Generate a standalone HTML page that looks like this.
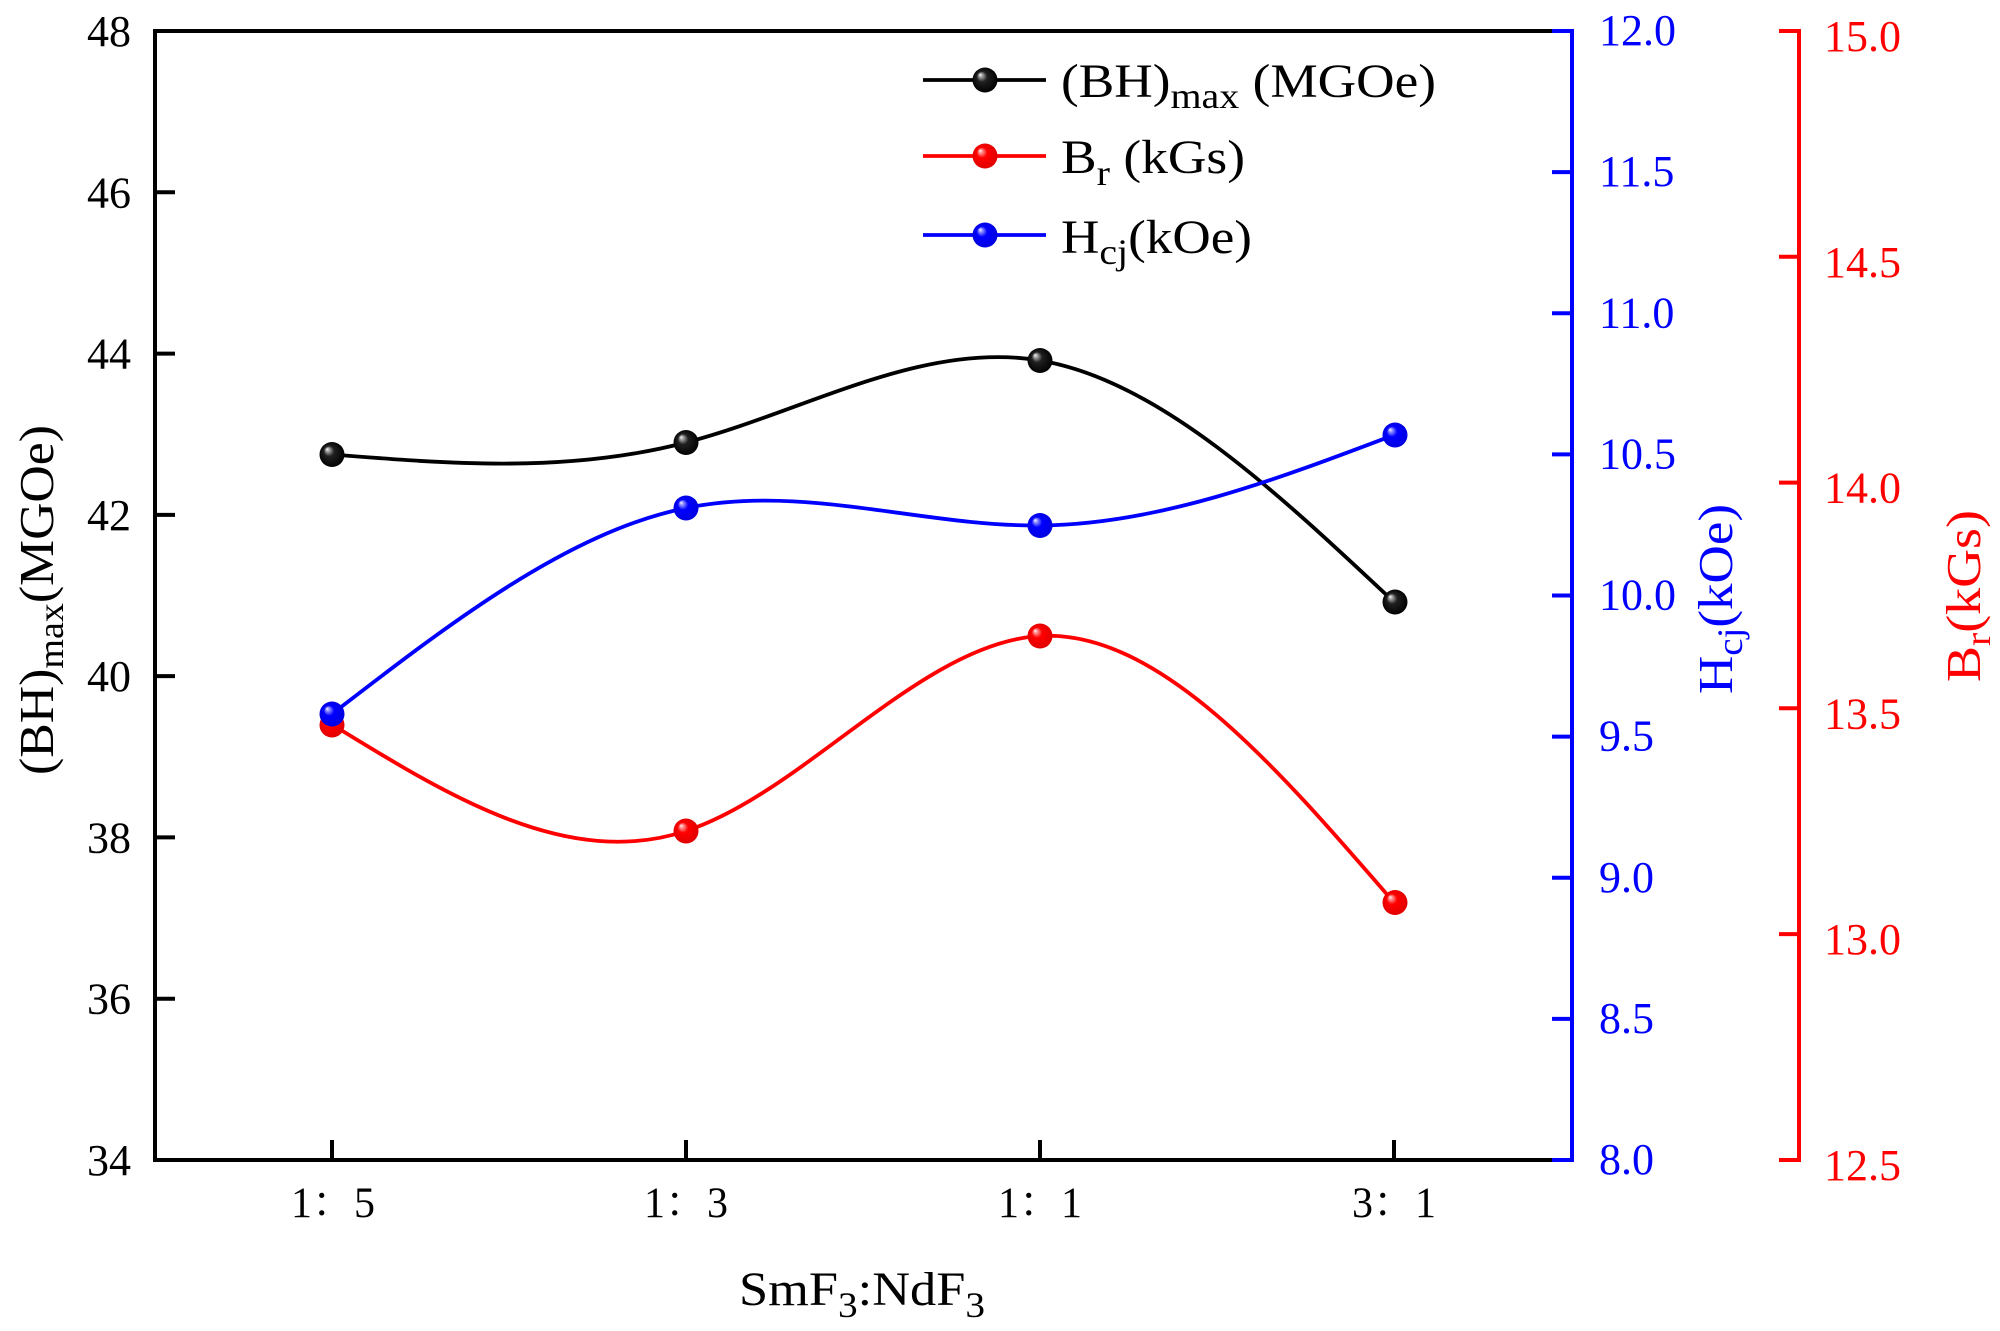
<!DOCTYPE html>
<html><head><meta charset="utf-8"><style>
html,body{margin:0;padding:0;background:#fff;}
svg{display:block;}
text{font-family:"Liberation Serif","Noto Serif CJK SC",serif;}
</style></head><body>
<svg width="2000" height="1331" viewBox="0 0 2000 1331" xmlns="http://www.w3.org/2000/svg">
<defs>
<radialGradient id="gk" cx="50%" cy="50%" r="52%" fx="30%" fy="28%">
<stop offset="0" stop-color="#ffffff"/><stop offset="0.12" stop-color="#b0b0b0"/><stop offset="0.4" stop-color="#202020"/><stop offset="1" stop-color="#000"/>
</radialGradient>
<radialGradient id="gr" cx="50%" cy="50%" r="52%" fx="30%" fy="28%">
<stop offset="0" stop-color="#ffffff"/><stop offset="0.12" stop-color="#ffa0a0"/><stop offset="0.4" stop-color="#ff0000"/><stop offset="1" stop-color="#e00000"/>
</radialGradient>
<radialGradient id="gb" cx="50%" cy="50%" r="52%" fx="30%" fy="28%">
<stop offset="0" stop-color="#ffffff"/><stop offset="0.12" stop-color="#a0a0ff"/><stop offset="0.4" stop-color="#0000ff"/><stop offset="1" stop-color="#0000e0"/>
</radialGradient>
</defs>
<rect width="2000" height="1331" fill="#fff"/>

<!-- frame -->
<g stroke="#000" stroke-width="4" fill="none">
<line x1="155" y1="31" x2="1572" y2="31"/>
<line x1="155" y1="29" x2="155" y2="1162"/>
<line x1="153" y1="1160" x2="1572" y2="1160"/>
<line x1="155" y1="192.3" x2="175" y2="192.3"/>
<line x1="155" y1="353.6" x2="175" y2="353.6"/>
<line x1="155" y1="514.9" x2="175" y2="514.9"/>
<line x1="155" y1="676.1" x2="175" y2="676.1"/>
<line x1="155" y1="837.4" x2="175" y2="837.4"/>
<line x1="155" y1="998.7" x2="175" y2="998.7"/>
<line x1="332" y1="1160" x2="332" y2="1140"/>
<line x1="686" y1="1160" x2="686" y2="1140"/>
<line x1="1040" y1="1160" x2="1040" y2="1140"/>
<line x1="1394" y1="1160" x2="1394" y2="1140"/>
</g>

<!-- blue axis -->
<g stroke="#0000ff" stroke-width="4" fill="none">
<line x1="1572" y1="29" x2="1572" y2="1162"/>
<line x1="1552" y1="31" x2="1572" y2="31"/>
<line x1="1552" y1="172.1" x2="1572" y2="172.1"/>
<line x1="1552" y1="313.3" x2="1572" y2="313.3"/>
<line x1="1552" y1="454.4" x2="1572" y2="454.4"/>
<line x1="1552" y1="595.5" x2="1572" y2="595.5"/>
<line x1="1552" y1="736.6" x2="1572" y2="736.6"/>
<line x1="1552" y1="877.8" x2="1572" y2="877.8"/>
<line x1="1552" y1="1018.9" x2="1572" y2="1018.9"/>
<line x1="1552" y1="1160" x2="1572" y2="1160"/>
</g>

<!-- red axis -->
<g stroke="#ff0000" stroke-width="4" fill="none">
<line x1="1799" y1="29" x2="1799" y2="1162"/>
<line x1="1779" y1="31" x2="1799" y2="31"/>
<line x1="1779" y1="256.8" x2="1799" y2="256.8"/>
<line x1="1779" y1="482.6" x2="1799" y2="482.6"/>
<line x1="1779" y1="708.3" x2="1799" y2="708.3"/>
<line x1="1779" y1="934.1" x2="1799" y2="934.1"/>
<line x1="1779" y1="1160" x2="1799" y2="1160"/>
</g>

<!-- left tick labels -->
<g font-size="44" fill="#000" text-anchor="end">
<text x="131" y="46">48</text>
<text x="131" y="207.3">46</text>
<text x="131" y="368.6">44</text>
<text x="131" y="529.9">42</text>
<text x="131" y="691.1">40</text>
<text x="131" y="852.4">38</text>
<text x="131" y="1013.7">36</text>
<text x="131" y="1175">34</text>
</g>

<!-- blue tick labels -->
<g font-size="44" fill="#0000ff">
<text x="1599" y="45">12.0</text>
<text x="1599" y="186.1">11.5</text>
<text x="1599" y="327.3">11.0</text>
<text x="1599" y="468.4">10.5</text>
<text x="1599" y="609.5">10.0</text>
<text x="1599" y="750.6">9.5</text>
<text x="1599" y="891.8">9.0</text>
<text x="1599" y="1032.9">8.5</text>
<text x="1599" y="1174">8.0</text>
</g>

<!-- red tick labels -->
<g font-size="44" fill="#ff0000">
<text x="1824" y="51">15.0</text>
<text x="1824" y="276.8">14.5</text>
<text x="1824" y="502.6">14.0</text>
<text x="1824" y="728.3">13.5</text>
<text x="1824" y="954.1">13.0</text>
<text x="1824" y="1180">12.5</text>
</g>

<!-- x tick labels -->
<g font-size="43" fill="#000" text-anchor="middle">
<text x="333" y="1217" textLength="84" lengthAdjust="spacingAndGlyphs">1：5</text>
<text x="686" y="1217" textLength="84" lengthAdjust="spacingAndGlyphs">1：3</text>
<text x="1040" y="1217" textLength="84" lengthAdjust="spacingAndGlyphs">1：1</text>
<text x="1394" y="1217" textLength="84" lengthAdjust="spacingAndGlyphs">3：1</text>
</g>

<!-- axis titles -->
<text x="862" y="1305" font-size="48" text-anchor="middle" textLength="246" lengthAdjust="spacingAndGlyphs">SmF<tspan font-size="36" dy="12">3</tspan><tspan dy="-12">:NdF</tspan><tspan font-size="36" dy="12">3</tspan></text>

<text transform="translate(53,600) rotate(-90)" font-size="49" text-anchor="middle" textLength="350" lengthAdjust="spacingAndGlyphs">(BH)<tspan font-size="36" dy="10">max</tspan><tspan dy="-10">(MGOe)</tspan></text>

<text transform="translate(1732,599) rotate(-90)" font-size="49" fill="#0000ff" text-anchor="middle" textLength="190" lengthAdjust="spacingAndGlyphs">H<tspan font-size="36" dy="10">cj</tspan><tspan dy="-10">(kOe)</tspan></text>

<text transform="translate(1980,596) rotate(-90)" font-size="49" fill="#ff0000" text-anchor="middle" textLength="172" lengthAdjust="spacingAndGlyphs">B<tspan font-size="36" dy="10">r</tspan><tspan dy="-10">(kGs)</tspan></text>

<!-- series curves -->
<g fill="none" stroke-width="3.8">
<path stroke="#000" d="M332,454.5 C450,463.9 568,473.3 686,442.5 C804,411.7 922,340.6 1040,360.5 C1158,380.4 1276,491.2 1394,602"/>
<path stroke="#ff0000" d="M332,724.5 C450,797.1 568,869.6 686,831 C804,792.4 922,642.6 1040,636 C1158,629.4 1276,765.9 1394,902.5"/>
<path stroke="#0000ff" d="M332,714 C450,623.1 568,532.1 686,508 C804,483.9 922,526.5 1040,525.5 C1158,524.5 1276,479.7 1394,435"/>
</g>

<!-- markers -->
<g>
<circle cx="332" cy="454.5" r="12.5" fill="url(#gk)"/>
<circle cx="686" cy="442.5" r="12.5" fill="url(#gk)"/>
<circle cx="1040" cy="360.5" r="12.5" fill="url(#gk)"/>
<circle cx="1395" cy="602" r="12.5" fill="url(#gk)"/>
<circle cx="332" cy="725" r="12.5" fill="url(#gr)"/>
<circle cx="686" cy="831" r="12.5" fill="url(#gr)"/>
<circle cx="1040" cy="636" r="12.5" fill="url(#gr)"/>
<circle cx="1395" cy="902.5" r="12.5" fill="url(#gr)"/>
<circle cx="332" cy="714" r="12.5" fill="url(#gb)"/>
<circle cx="686" cy="508" r="12.5" fill="url(#gb)"/>
<circle cx="1040" cy="525.5" r="12.5" fill="url(#gb)"/>
<circle cx="1395" cy="435" r="12.5" fill="url(#gb)"/>
</g>

<!-- legend -->
<g stroke-width="3.8">
<line x1="923" y1="80" x2="1046" y2="80" stroke="#000"/>
<line x1="923" y1="156" x2="1046" y2="156" stroke="#ff0000"/>
<line x1="923" y1="235" x2="1046" y2="235" stroke="#0000ff"/>
</g>
<circle cx="985" cy="80" r="12.5" fill="url(#gk)"/>
<circle cx="985" cy="156" r="12.5" fill="url(#gr)"/>
<circle cx="985" cy="235" r="12.5" fill="url(#gb)"/>
<text x="1061" y="97" font-size="48" textLength="375" lengthAdjust="spacingAndGlyphs">(BH)<tspan font-size="36" dy="11">max</tspan><tspan dy="-11"> (MGOe)</tspan></text>
<text x="1061" y="173" font-size="48" textLength="184" lengthAdjust="spacingAndGlyphs">B<tspan font-size="36" dy="12">r</tspan><tspan dy="-12"> (kGs)</tspan></text>
<text x="1061" y="253" font-size="48" textLength="191" lengthAdjust="spacingAndGlyphs">H<tspan font-size="36" dy="11">cj</tspan><tspan dy="-11">(kOe)</tspan></text>
</svg>
</body></html>
